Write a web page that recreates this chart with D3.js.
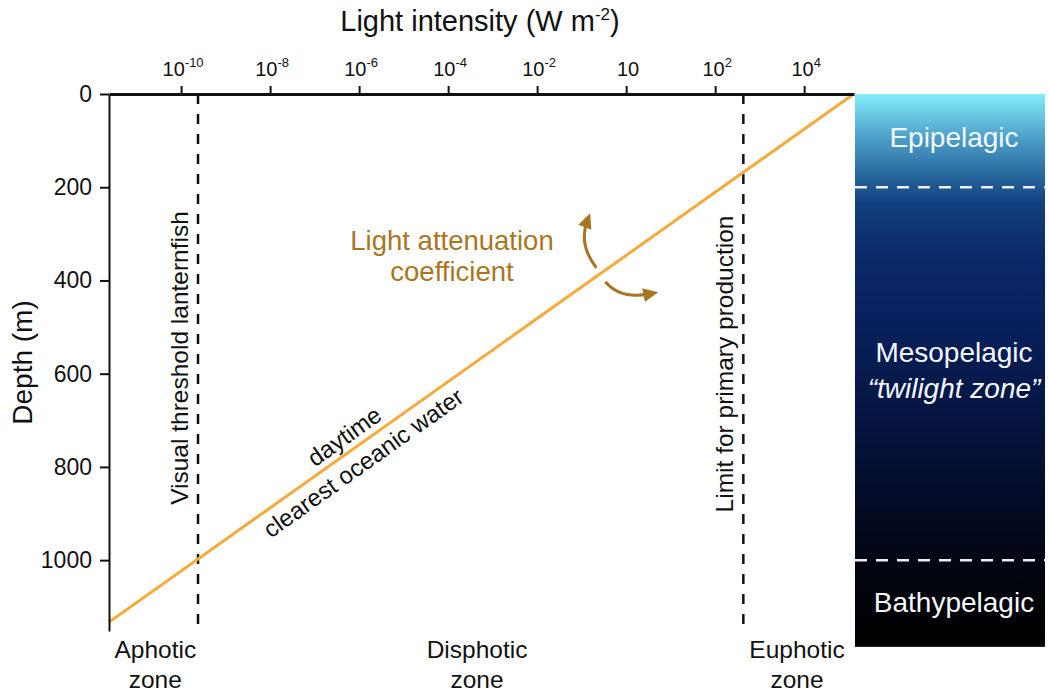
<!DOCTYPE html>
<html>
<head>
<meta charset="utf-8">
<script src="https://cdn.jsdelivr.net/npm/d3@7"></script>
<style>
  html, body { margin: 0; padding: 0; background: #ffffff; }
  svg { display: block; font-family: Arial, "Liberation Sans", sans-serif; }
</style>
</head>
<body>
<svg id="chart" width="1049" height="696"></svg>
<script>
// ---------------- data ----------------
const xTickExponents = [-10, -8, -6, -4, -2, 0, 2, 4];
const xTickLabels = ["-10", "-8", "-6", "-4", "-2", "", "2", "4"]; // "10" shown for 10^0 as in original
const depthTicks = [0, 200, 400, 600, 800, 1000];

// light profile (intensity W m-2, depth m) – daytime, clearest oceanic water
const profileIntensity = [1.3e5, 2.4e-12];
const profileDepth = [0, 1133];

// vertical thresholds
const thresholdNames = ["Visual threshold lanternfish", "Limit for primary production"];
const thresholdIntensity = [2.4e-10, 4.3e2];

// photic zones along the intensity axis (label positions, log10 intensity)
const photicZoneNames = ["Aphotic", "Disphotic", "Euphotic"];
const photicZoneLogPos = [-10.58, -3.35, 3.84];

// pelagic zones (depth ranges)
const pelagicZoneNames = ["Epipelagic", "Mesopelagic", "Bathypelagic"];
const pelagicZoneTop = [0, 200, 1000];
const pelagicZoneBottom = [200, 1000, 1186];

// ---------------- layout ----------------
const svg = d3.select("#chart");
const plotLeft = 109, plotRight = 854, plotTop = 94, plotBottom = 631;
const panelLeft = 855, panelRight = 1045;

const x = d3.scaleLog()
  .domain([Math.pow(10, -11.62), Math.pow(10, 5.12)])
  .range([plotLeft, plotRight]);
const y = d3.scaleLinear()
  .domain([0, 1152])
  .range([plotTop, plotBottom]);

const FONT = 'Arial, "Liberation Sans", sans-serif';
const brown = "#a9761f";
const orange = "#f6aa3c";

// ---------------- pelagic zone panel ----------------
const defs = svg.append("defs");
const grad = defs.append("linearGradient")
  .attr("id", "ocean")
  .attr("gradientUnits", "userSpaceOnUse")
  .attr("x1", 0).attr("x2", 0)
  .attr("y1", y(0)).attr("y2", y(pelagicZoneBottom[2]));
[
  [0, "#86ecfa"], [0.08, "#4b9fc8"], [0.16, "#225c96"], [0.20, "#123f80"],
  [0.30, "#0a2868"], [0.45, "#071e57"], [0.60, "#05143e"], [0.75, "#030b24"],
  [0.88, "#01040d"], [1, "#000000"]
].forEach(([o, c]) => grad.append("stop").attr("offset", o).attr("stop-color", c));

svg.append("rect")
  .attr("x", panelLeft).attr("width", panelRight - panelLeft)
  .attr("y", y(0)).attr("height", y(pelagicZoneBottom[2]) - y(0))
  .attr("fill", "url(#ocean)");

// white dashed boundaries
svg.selectAll(".zoneBoundary")
  .data(pelagicZoneTop.slice(1))
  .join("line")
  .attr("x1", panelLeft).attr("x2", panelRight)
  .attr("y1", d => y(d)).attr("y2", d => y(d))
  .attr("stroke", "#eeeeee").attr("stroke-width", 2.5)
  .attr("stroke-dasharray", "12,9");

// zone labels
const zoneLabelX = 954;
const zoneFont = 28;
svg.append("text").attr("x", zoneLabelX).attr("y", y(93)).attr("dy", "0.35em")
  .attr("text-anchor", "middle").attr("fill", "#f4f8fb").attr("font-size", zoneFont)
  .text(pelagicZoneNames[0]);
svg.append("text").attr("x", zoneLabelX).attr("y", y(554)).attr("dy", "0.35em")
  .attr("text-anchor", "middle").attr("fill", "#f4f8fb").attr("font-size", zoneFont)
  .text(pelagicZoneNames[1]);
svg.append("text").attr("x", zoneLabelX).attr("y", y(631)).attr("dy", "0.35em")
  .attr("text-anchor", "middle").attr("fill", "#f4f8fb").attr("font-size", zoneFont)
  .attr("font-style", "italic")
  .text("\u201Ctwilight zone\u201D");
svg.append("text").attr("x", zoneLabelX).attr("y", y(1091)).attr("dy", "0.35em")
  .attr("text-anchor", "middle").attr("fill", "#f4f8fb").attr("font-size", zoneFont)
  .text(pelagicZoneNames[2]);

// ---------------- threshold dashed lines ----------------
svg.selectAll(".threshold")
  .data(thresholdIntensity)
  .join("line")
  .attr("x1", d => x(d)).attr("x2", d => x(d))
  .attr("y1", plotTop).attr("y2", plotBottom)
  .attr("stroke", "#111").attr("stroke-width", 2.5)
  .attr("stroke-dasharray", "10,10");

svg.selectAll(".thresholdLabel")
  .data(thresholdIntensity)
  .join("text")
  .attr("transform", (d, i) => `translate(${x(d) - 19},${i === 0 ? 358 : 364}) rotate(-90)`)
  .attr("dy", "0.35em")
  .attr("text-anchor", "middle")
  .attr("font-size", 24.5)
  .attr("fill", "#111")
  .text((d, i) => thresholdNames[i]);

// ---------------- light profile line ----------------
const profile = profileIntensity.map((v, i) => ({ I: v, D: profileDepth[i] }));
svg.append("path")
  .datum(profile)
  .attr("d", d3.line().x(d => x(d.I)).y(d => y(d.D)))
  .attr("fill", "none")
  .attr("stroke", orange)
  .attr("stroke-width", 3);

// labels along the line
const px0 = x(profile[0].I), py0 = y(profile[0].D);
const px1 = x(profile[1].I), py1 = y(profile[1].D);
const angle = Math.atan2(py0 - py1, px0 - px1) * 180 / Math.PI;
const lineAt = I => {
  const t = (Math.log10(I) - Math.log10(profile[1].I)) / (Math.log10(profile[0].I) - Math.log10(profile[1].I));
  return [x(I), y(profile[1].D + t * (profile[0].D - profile[1].D))];
};
const [lx, ly] = lineAt(Math.pow(10, -6.13));
const lineLabels = svg.append("g").attr("transform", `translate(${lx},${ly}) rotate(${angle})`);
lineLabels.append("text").attr("x", 0).attr("y", -15.5).attr("dy", "0.35em")
  .attr("text-anchor", "middle").attr("font-size", 24).attr("fill", "#111").text("daytime");
lineLabels.append("text").attr("x", 0).attr("y", 17).attr("dy", "0.35em")
  .attr("text-anchor", "middle").attr("font-size", 24).attr("fill", "#111").text("clearest oceanic water");

// ---------------- attenuation annotation ----------------
defs.append("marker")
  .attr("id", "arrowhead")
  .attr("viewBox", "0 -8 16 16")
  .attr("refX", 7).attr("refY", 0)
  .attr("markerUnits", "userSpaceOnUse")
  .attr("markerWidth", 16).attr("markerHeight", 16)
  .attr("orient", "auto")
  .append("path").attr("d", "M0,-7 L15,0 L0,7 Z").attr("fill", brown);

const [ax, ay] = lineAt(Math.pow(10, -0.58));
svg.append("path")
  .attr("d", `M${ax - 4},${ay - 6} Q${ax - 22},${ay - 29} ${ax - 13},${ay - 53}`)
  .attr("fill", "none").attr("stroke", brown).attr("stroke-width", 3)
  .attr("marker-end", "url(#arrowhead)");
svg.append("path")
  .attr("d", `M${ax + 5},${ay + 8} Q${ax + 20},${ay + 26} ${ax + 50},${ay + 20}`)
  .attr("fill", "none").attr("stroke", brown).attr("stroke-width", 3)
  .attr("marker-end", "url(#arrowhead)");

svg.append("text").attr("x", 452).attr("y", 240).attr("dy", "0.35em")
  .attr("text-anchor", "middle").attr("font-size", 27.5).attr("fill", brown)
  .text("Light attenuation");
svg.append("text").attr("x", 452).attr("y", 271).attr("dy", "0.35em")
  .attr("text-anchor", "middle").attr("font-size", 27.5).attr("fill", brown)
  .text("coefficient");

// ---------------- axes ----------------
const xAxis = d3.axisTop(x)
  .tickValues(xTickExponents.map(e => Math.pow(10, e)))
  .tickSize(8).tickSizeOuter(0).tickFormat("");
const gx = svg.append("g").attr("transform", `translate(0,${plotTop})`).call(xAxis);
gx.select(".domain").attr("stroke", "#111").attr("stroke-width", 3);
gx.selectAll(".tick line").attr("stroke", "#111").attr("stroke-width", 2);

// custom tick labels with superscripts
xTickExponents.forEach((e, i) => {
  const t = svg.append("text")
    .attr("x", x(Math.pow(10, e)) + 2).attr("y", 76)
    .attr("text-anchor", "middle").attr("font-size", 20).attr("fill", "#111");
  t.append("tspan").text("10");
  if (xTickLabels[i] !== "") {
    t.append("tspan").attr("dy", -9).attr("font-size", 13).text(xTickLabels[i]);
  }
});

const yAxis = d3.axisLeft(y).tickValues(depthTicks).tickFormat(d3.format("d"))
  .tickSize(9).tickPadding(8).tickSizeOuter(0);
const gy = svg.append("g").attr("transform", `translate(${plotLeft},0)`).call(yAxis);
gy.select(".domain").attr("stroke", "#111").attr("stroke-width", 2);
gy.selectAll(".tick line").attr("stroke", "#111").attr("stroke-width", 2);
gy.selectAll(".tick text").attr("font-size", 23).attr("font-family", FONT).attr("fill", "#111");

// axis titles
const title = svg.append("text").attr("x", 480).attr("y", 31)
  .attr("text-anchor", "middle").attr("font-size", 29).attr("fill", "#111");
title.append("tspan").text("Light intensity (W m");
title.append("tspan").attr("dy", -11).attr("font-size", 17).text("-2");
title.append("tspan").attr("dy", 11).text(")");

svg.append("text")
  .attr("transform", `translate(22,${(plotTop + plotBottom) / 2}) rotate(-90)`)
  .attr("dy", "0.35em").attr("text-anchor", "middle")
  .attr("font-size", 28).attr("fill", "#111")
  .text("Depth (m)");

// photic zone labels at bottom
svg.selectAll(".photic")
  .data(photicZoneNames)
  .join("text")
  .attr("x", (d, i) => x(Math.pow(10, photicZoneLogPos[i])))
  .attr("y", 658)
  .attr("text-anchor", "middle").attr("font-size", 24.5).attr("fill", "#111")
  .each(function(d) {
    const t = d3.select(this);
    t.append("tspan").text(d);
    t.append("tspan").attr("x", t.attr("x")).attr("dy", 30).text("zone");
  });
</script>
</body>
</html>
